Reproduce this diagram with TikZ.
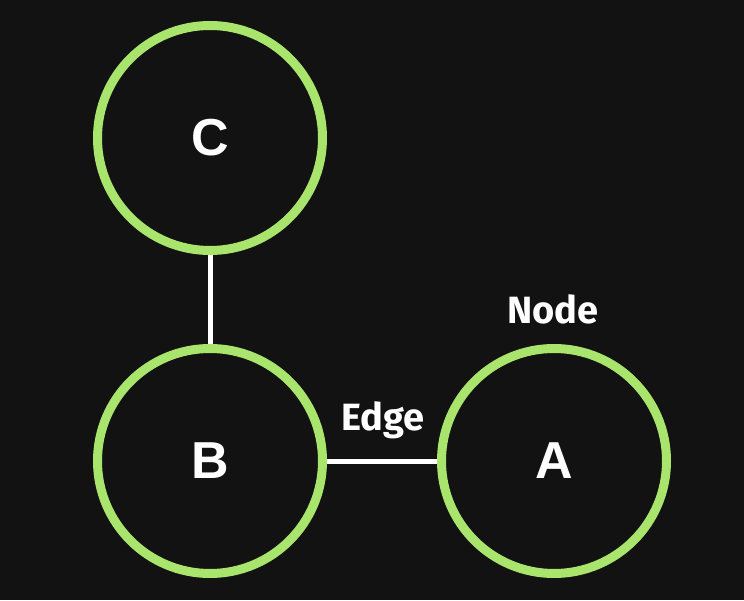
\documentclass[tikz,border=0pt]{standalone}
\usepackage{fontspec}
\setmainfont{Liberation Sans}
\newfontfamily\handfont{Fira Sans}
\definecolor{bg}{HTML}{121212}
\definecolor{ring}{HTML}{A9E56C}
\begin{document}
\begin{tikzpicture}[x=1pt,y=1pt,
  gnode/.style={circle,draw=ring,line width=9pt,minimum size=225pt,inner sep=0pt,
    text=white,font=\fontsize{52}{52}\selectfont\bfseries},
  edgeline/.style={draw=white,line width=5pt},
  lbl/.style={text=white,font=\handfont\fontsize{38}{38}\selectfont\bfseries}]
\fill[bg] (0,0) rectangle (744,600);
\useasboundingbox (0,0) rectangle (744,600);
\node[gnode] (C) at (210,462) {C};
\node[gnode] (B) at (210,139) {B};
\node[gnode] (A) at (554,139) {A};
\draw[edgeline] (C) -- (B);
\draw[edgeline] (B) -- (A);
\node[lbl] (edgelbl) at (383,180) {Edge};
\node[lbl] (nodelbl) at (553,291) {Node};
\end{tikzpicture}
\end{document}
